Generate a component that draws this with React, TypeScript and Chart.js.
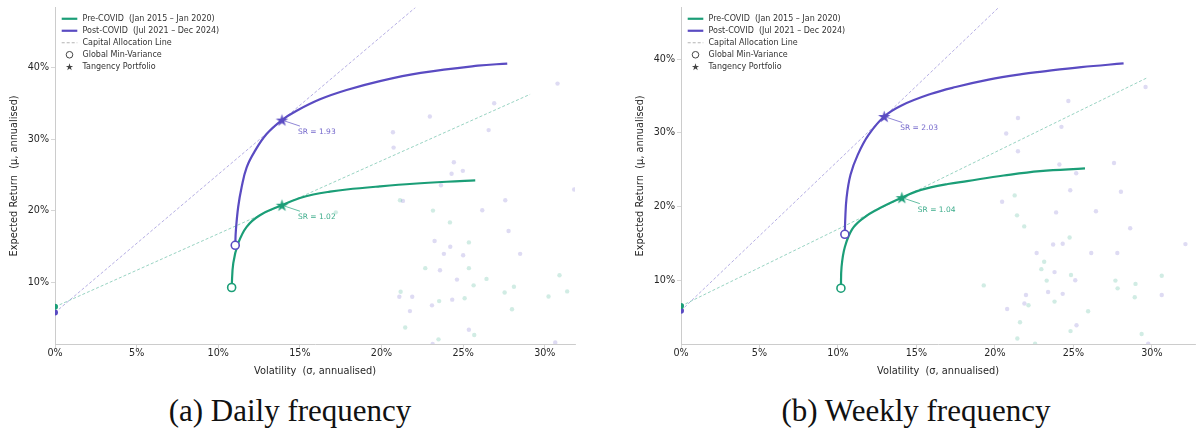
import React, { useEffect, useRef } from "react";
import { Chart, registerables } from "chart.js";

Chart.register(...registerables);

type Pt = [number, number];

const GREEN = "#1b9e77";
const PURPLE = "#5a4bc2";
const GREEN_RGB = "27,158,119";
const PURPLE_RGB = "90,75,194";
const FONT = "'DejaVu Sans', Verdana, sans-serif";

const legendLabels = [
  "Pre-COVID  (Jan 2015 – Jan 2020)",
  "Post-COVID  (Jul 2021 – Dec 2024)",
  "Capital Allocation Line",
  "Global Min-Variance",
  "Tangency Portfolio",
];
const xTickValues = [0, 5, 10, 15, 20, 25, 30];
const yTickValues = [10, 20, 30, 40];
const xTitle = "Volatility  (σ, annualised)";
const yTitle = "Expected Return  (μ, annualised)";

// ---------- (a) Daily frequency ----------
const dailyPreFrontier: Pt[] = [
  [10.82, 9.3], [10.92, 12.7], [11.22, 15.47], [11.74, 17.78], [12.55, 19.4],
  [13.9, 20.8], [15.0, 21.8], [15.82, 22.3], [16.84, 22.7], [17.86, 23.0],
  [19.9, 23.43], [21.94, 23.8], [23.99, 24.08], [25.74, 24.26],
];
const dailyPostFrontier: Pt[] = [
  [11.04, 15.2], [11.08, 17.3], [11.22, 20.55], [11.43, 23.3], [11.74, 26.1],
  [12.25, 28.4], [12.96, 30.75], [13.9, 32.7], [14.8, 34.0], [16.23, 35.6],
  [17.86, 36.9], [19.9, 38.15], [22.4, 39.3], [25.9, 40.3], [27.7, 40.6],
];
const dailyPreGmv: Pt = [10.82, 9.3];
const dailyPostGmv: Pt = [11.04, 15.2];
const dailyPreTangency: Pt = [13.9, 20.8];
const dailyPostTangency: Pt = [13.9, 32.7];
const dailySharpe = [1.02, 1.93];
const dailyRiskFree = [6.6, 5.8];
const dailyPreCal: Pt[] = [[0, 6.6], [29.1, 36.3]];
const dailyPostCal: Pt[] = [[0, 5.8], [29.1, 62.0]];
const dailyPreAssets: Pt[] = [
  [21.13, 21.5], [23.15, 20.05], [24.19, 18.4], [25.35, 15.6], [22.68, 12.0],
  [25.35, 12.0], [26.43, 10.5], [25.64, 9.6], [30.9, 11.0], [21.17, 8.7],
  [23.53, 7.4], [25.09, 7.8], [27.54, 8.6], [28.11, 9.4], [30.23, 8.05],
  [31.37, 8.75], [27.99, 6.25], [21.45, 3.7], [25.68, 2.65], [23.49, 2.05],
  [17.2, 19.8],
];
const dailyPostAssets: Pt[] = [
  [30.78, 37.8], [26.9, 35.05], [22.96, 33.2], [20.7, 31.0], [26.56, 31.3],
  [20.74, 28.85], [24.43, 26.8], [24.29, 25.2], [24.98, 25.6], [23.64, 23.6],
  [31.8, 23.0], [21.31, 21.4], [26.17, 20.1], [27.58, 21.5], [27.78, 17.2],
  [23.25, 15.8], [24.21, 15.0], [23.82, 14.0], [25.0, 13.8], [28.49, 14.0],
  [23.58, 11.7], [24.62, 10.4], [21.09, 8.0], [21.88, 8.0], [24.33, 7.6],
  [23.09, 6.8], [21.74, 6.0], [25.35, 3.4], [23.13, 1.4], [30.64, 1.6],
];
const dailyRange = [0, 31.85, 1.4, 48.4];

// ---------- (b) Weekly frequency ----------
const weeklyPreFrontier: Pt[] = [
  [10.19, 8.92], [10.23, 11.8], [10.44, 14.5], [10.9, 16.9], [11.6, 18.4],
  [12.42, 19.5], [14.07, 21.2], [15.0, 22.05], [15.91, 22.6], [17.0, 23.05],
  [18.23, 23.45], [20.56, 24.2], [22.88, 24.8], [25.74, 25.16],
];
const weeklyPostFrontier: Pt[] = [
  [10.44, 16.23], [10.46, 18.0], [10.55, 21.2], [10.8, 24.3], [11.26, 27.0],
  [11.95, 29.7], [12.95, 32.2], [14.05, 33.7], [15.9, 35.25], [17.5, 36.2],
  [19.6, 37.2], [21.7, 37.95], [23.0, 38.3], [25.5, 38.9], [28.2, 39.4],
];
const weeklyPreGmv: Pt = [10.19, 8.92];
const weeklyPostGmv: Pt = [10.44, 16.23];
const weeklyPreTangency: Pt = [14.07, 21.2];
const weeklyPostTangency: Pt = [12.95, 32.2];
const weeklySharpe = [1.04, 2.03];
const weeklyRiskFree = [6.5, 5.87];
const weeklyPreCal: Pt[] = [[0, 6.5], [29.65, 37.4]];
const weeklyPostCal: Pt[] = [[0, 5.87], [29.65, 66.1]];
const weeklyPreAssets: Pt[] = [
  [21.26, 21.5], [21.41, 18.8], [21.87, 17.3], [24.76, 15.8], [23.14, 12.5],
  [22.96, 11.5], [24.85, 10.7], [23.3, 9.95], [19.29, 9.3], [27.68, 9.95],
  [28.96, 9.5], [30.63, 10.6], [27.82, 8.9], [28.91, 7.7], [22.14, 6.6],
  [23.8, 7.1], [25.94, 5.8], [21.6, 4.3], [21.43, 2.1], [24.82, 3.1],
  [22.56, 1.4], [29.35, 2.7],
];
const weeklyPostAssets: Pt[] = [
  [29.6, 36.2], [24.68, 34.3], [21.47, 32.0], [20.72, 29.9], [24.24, 30.8],
  [21.47, 27.5], [24.11, 25.7], [25.18, 24.5], [27.59, 25.9], [28.03, 22.0],
  [24.8, 22.2], [20.46, 20.65], [23.9, 19.2], [26.44, 19.35], [28.62, 17.05],
  [32.14, 14.9], [23.71, 14.85], [24.32, 14.95], [22.66, 13.7], [26.14, 13.7],
  [27.8, 13.7], [23.8, 11.1], [25.12, 10.0], [30.63, 8.0], [23.39, 8.4],
  [24.32, 8.15], [21.98, 8.0], [21.88, 6.85], [20.78, 6.1], [25.2, 3.9],
  [29.77, 1.4],
];
const weeklyRange = [0, 32.75, 1.35, 46.95];

interface PanelSpec {
  pre: Pt[]; post: Pt[]; preGmv: Pt; postGmv: Pt; preTan: Pt; postTan: Pt;
  sharpe: number[]; rf: number[]; preCal: Pt[]; postCal: Pt[];
  preAssets: Pt[]; postAssets: Pt[]; range: number[];
}

const dailySpec: PanelSpec = {
  pre: dailyPreFrontier, post: dailyPostFrontier, preGmv: dailyPreGmv, postGmv: dailyPostGmv,
  preTan: dailyPreTangency, postTan: dailyPostTangency, sharpe: dailySharpe, rf: dailyRiskFree,
  preCal: dailyPreCal, postCal: dailyPostCal, preAssets: dailyPreAssets, postAssets: dailyPostAssets,
  range: dailyRange,
};
const weeklySpec: PanelSpec = {
  pre: weeklyPreFrontier, post: weeklyPostFrontier, preGmv: weeklyPreGmv, postGmv: weeklyPostGmv,
  preTan: weeklyPreTangency, postTan: weeklyPostTangency, sharpe: weeklySharpe, rf: weeklyRiskFree,
  preCal: weeklyPreCal, postCal: weeklyPostCal, preAssets: weeklyPreAssets, postAssets: weeklyPostAssets,
  range: weeklyRange,
};

const toXY = (pts: Pt[]) => pts.map(([x, y]) => ({ x, y }));

function starPath(ctx: CanvasRenderingContext2D, cx: number, cy: number, r: number) {
  const inner = r * 0.382;
  ctx.beginPath();
  for (let i = 0; i < 10; i++) {
    const rad = i % 2 === 0 ? r : inner;
    const a = -Math.PI / 2 + (i * Math.PI) / 5;
    const px = cx + rad * Math.cos(a);
    const py = cy + rad * Math.sin(a);
    if (i === 0) ctx.moveTo(px, py);
    else ctx.lineTo(px, py);
  }
  ctx.closePath();
}

function makeStar(color: string, r: number): HTMLCanvasElement {
  const size = Math.ceil(r * 2 + 2);
  const c = document.createElement("canvas");
  c.width = size;
  c.height = size;
  const ctx = c.getContext("2d")!;
  starPath(ctx, size / 2, size / 2 + 0.6, r);
  ctx.fillStyle = color;
  ctx.fill();
  return c;
}

function overlayPlugin(spec: PanelSpec) {
  return {
    id: "overlay",
    afterDatasetsDraw(chart: any) {
      const { ctx, chartArea: area, scales } = chart;
      const xs = scales.x;
      const ys = scales.y;
      ctx.save();
      const anns = [
        { pt: spec.preTan, sr: spec.sharpe[0], color: `rgba(${GREEN_RGB},0.85)` },
        { pt: spec.postTan, sr: spec.sharpe[1], color: `rgba(${PURPLE_RGB},0.85)` },
      ];
      for (const a of anns) {
        const sx = xs.getPixelForValue(a.pt[0]);
        const sy = ys.getPixelForValue(a.pt[1]);
        ctx.strokeStyle = a.color;
        ctx.lineWidth = 0.8;
        ctx.beginPath();
        ctx.moveTo(sx + 3, sy + 1);
        ctx.lineTo(sx + 18, sy + 6);
        ctx.stroke();
        ctx.font = `7.5px ${FONT}`;
        ctx.fillStyle = a.color;
        ctx.textAlign = "left";
        ctx.textBaseline = "middle";
        ctx.fillText(`SR = ${a.sr.toFixed(2)}`, sx + 16, sy + 12);
      }
      const lx = area.left;
      const cx = lx + 14.5;
      legendLabels.forEach((label, i) => {
        const ly = area.top + 11 + i * 12;
        ctx.setLineDash([]);
        if (i === 0 || i === 1) {
          ctx.strokeStyle = i === 0 ? GREEN : PURPLE;
          ctx.lineWidth = 2.2;
          ctx.beginPath();
          ctx.moveTo(lx + 6.7, ly);
          ctx.lineTo(lx + 22.3, ly);
          ctx.stroke();
        } else if (i === 2) {
          ctx.strokeStyle = "#b3b3b3";
          ctx.lineWidth = 1;
          ctx.setLineDash([3, 2]);
          ctx.beginPath();
          ctx.moveTo(lx + 6.7, ly);
          ctx.lineTo(lx + 22.3, ly);
          ctx.stroke();
          ctx.setLineDash([]);
        } else if (i === 3) {
          ctx.strokeStyle = "#444";
          ctx.lineWidth = 1;
          ctx.fillStyle = "#fff";
          ctx.beginPath();
          ctx.arc(cx, ly, 3.3, 0, Math.PI * 2);
          ctx.fill();
          ctx.stroke();
        } else {
          ctx.fillStyle = "#444";
          starPath(ctx, cx, ly + 0.4, 3.8);
          ctx.fill();
        }
        ctx.font = `8px ${FONT}`;
        ctx.fillStyle = "#333";
        ctx.textAlign = "left";
        ctx.textBaseline = "middle";
        ctx.fillText(label, lx + 27.5, ly);
      });
      ctx.restore();
    },
  };
}

function buildConfig(spec: PanelSpec, padLeft: number, padRight: number): any {
  const [xMin, xMax, yMin, yMax] = spec.range;
  const starGreen = makeStar(GREEN, 6.5);
  const starPurple = makeStar(PURPLE, 6.5);
  const axisColor = "#cccccc";
  const tickFont = { family: FONT, size: 9.6 };
  const titleFont = { family: FONT, size: 9.8 };
  return {
    type: "scatter",
    data: {
      datasets: [
        { data: toXY([spec.preTan]), pointStyle: starGreen, pointRadius: 6, order: 0 },
        { data: toXY([spec.postTan]), pointStyle: starPurple, pointRadius: 6, order: 0 },
        {
          data: toXY([spec.preGmv]), pointRadius: 4, pointBackgroundColor: "#fff",
          pointBorderColor: GREEN, pointBorderWidth: 1.6, order: 1,
        },
        {
          data: toXY([spec.postGmv]), pointRadius: 4, pointBackgroundColor: "#fff",
          pointBorderColor: PURPLE, pointBorderWidth: 1.6, order: 1,
        },
        {
          data: [{ x: 0, y: spec.rf[0] }], pointRadius: 3, pointBackgroundColor: GREEN,
          pointBorderWidth: 0, order: 2,
        },
        {
          data: [{ x: 0, y: spec.rf[1] }], pointRadius: 3, pointBackgroundColor: PURPLE,
          pointBorderWidth: 0, order: 2,
        },
        {
          data: toXY(spec.pre), showLine: true, borderColor: GREEN, borderWidth: 2.2,
          pointRadius: 0, tension: 0.4, order: 3,
        },
        {
          data: toXY(spec.post), showLine: true, borderColor: PURPLE, borderWidth: 2.2,
          pointRadius: 0, tension: 0.4, order: 3,
        },
        {
          data: toXY(spec.preCal), showLine: true, borderColor: `rgba(${GREEN_RGB},0.5)`,
          borderWidth: 0.9, borderDash: [3, 2], pointRadius: 0, order: 4,
        },
        {
          data: toXY(spec.postCal), showLine: true, borderColor: `rgba(${PURPLE_RGB},0.5)`,
          borderWidth: 0.9, borderDash: [3, 2], pointRadius: 0, order: 4,
        },
        {
          data: toXY(spec.preAssets), pointRadius: 2.2,
          pointBackgroundColor: `rgba(${GREEN_RGB},0.2)`, pointBorderWidth: 0, order: 5,
        },
        {
          data: toXY(spec.postAssets), pointRadius: 2.2,
          pointBackgroundColor: `rgba(${PURPLE_RGB},0.2)`, pointBorderWidth: 0, order: 5,
        },
      ],
    },
    options: {
      animation: false,
      responsive: false,
      maintainAspectRatio: false,
      devicePixelRatio: 1,
      events: [],
      layout: { padding: { left: padLeft, right: padRight, top: 6, bottom: 0 } },
      plugins: { legend: { display: false }, tooltip: { enabled: false } },
      scales: {
        x: {
          type: "linear",
          min: xMin,
          max: xMax,
          afterFit: (s: any) => { s.height = 41; },
          afterBuildTicks: (s: any) => { s.ticks = xTickValues.map((v) => ({ value: v })); },
          ticks: {
            callback: (v: any) => `${v}%`, font: tickFont, color: "#262626",
            padding: 0, maxRotation: 0, autoSkip: false,
          },
          grid: { drawOnChartArea: false, drawTicks: true, tickLength: 4, color: axisColor, lineWidth: 0.8 },
          border: { display: true, color: axisColor, width: 1 },
          title: {
            display: true, text: xTitle, font: titleFont, color: "#262626",
            padding: { top: 0, bottom: 8 },
          },
        },
        y: {
          type: "linear",
          min: yMin,
          max: yMax,
          afterFit: (s: any) => { s.width = 55; },
          afterBuildTicks: (s: any) => { s.ticks = yTickValues.map((v) => ({ value: v })); },
          ticks: {
            callback: (v: any) => `${v}%`, font: tickFont, color: "#262626",
            padding: 2, autoSkip: false,
          },
          grid: { drawOnChartArea: false, drawTicks: true, tickLength: 4, color: axisColor, lineWidth: 0.8 },
          border: { display: true, color: axisColor, width: 1 },
          title: {
            display: true, text: yTitle, font: titleFont, color: "#262626",
            padding: { top: 9, bottom: 0 },
          },
        },
      },
    },
    plugins: [overlayPlugin(spec)],
  };
}

function Panel(props: { spec: PanelSpec; left: number; width: number; padLeft: number; padRight: number }) {
  const ref = useRef<HTMLCanvasElement>(null);
  useEffect(() => {
    const canvas = ref.current;
    if (!canvas) return;
    const chart = new Chart(canvas, buildConfig(props.spec, props.padLeft, props.padRight));
    return () => chart.destroy();
  }, []);
  return (
    <canvas
      ref={ref}
      width={props.width}
      height={385}
      style={{ position: "absolute", left: props.left, top: 0, width: props.width, height: 385 }}
    />
  );
}

const captionStyle = (center: number): React.CSSProperties => ({
  position: "absolute",
  left: center - 250,
  width: 500,
  top: 395,
  textAlign: "center",
  fontFamily: "'Liberation Serif', 'Times New Roman', serif",
  fontSize: 31,
  lineHeight: "31px",
  color: "#111",
  whiteSpace: "nowrap",
});

export default function App() {
  useEffect(() => {
    document.body.style.margin = "0";
  }, []);
  return (
    <div style={{ position: "relative", width: 1202, height: 435, background: "#fff", overflow: "hidden" }}>
      <Panel spec={dailySpec} left={0} width={600} padLeft={0} padRight={25} />
      <Panel spec={weeklySpec} left={600} width={602} padLeft={26} padRight={0} />
      <div style={captionStyle(290)}>(a) Daily frequency</div>
      <div style={captionStyle(916)}>(b) Weekly frequency</div>
    </div>
  );
}
